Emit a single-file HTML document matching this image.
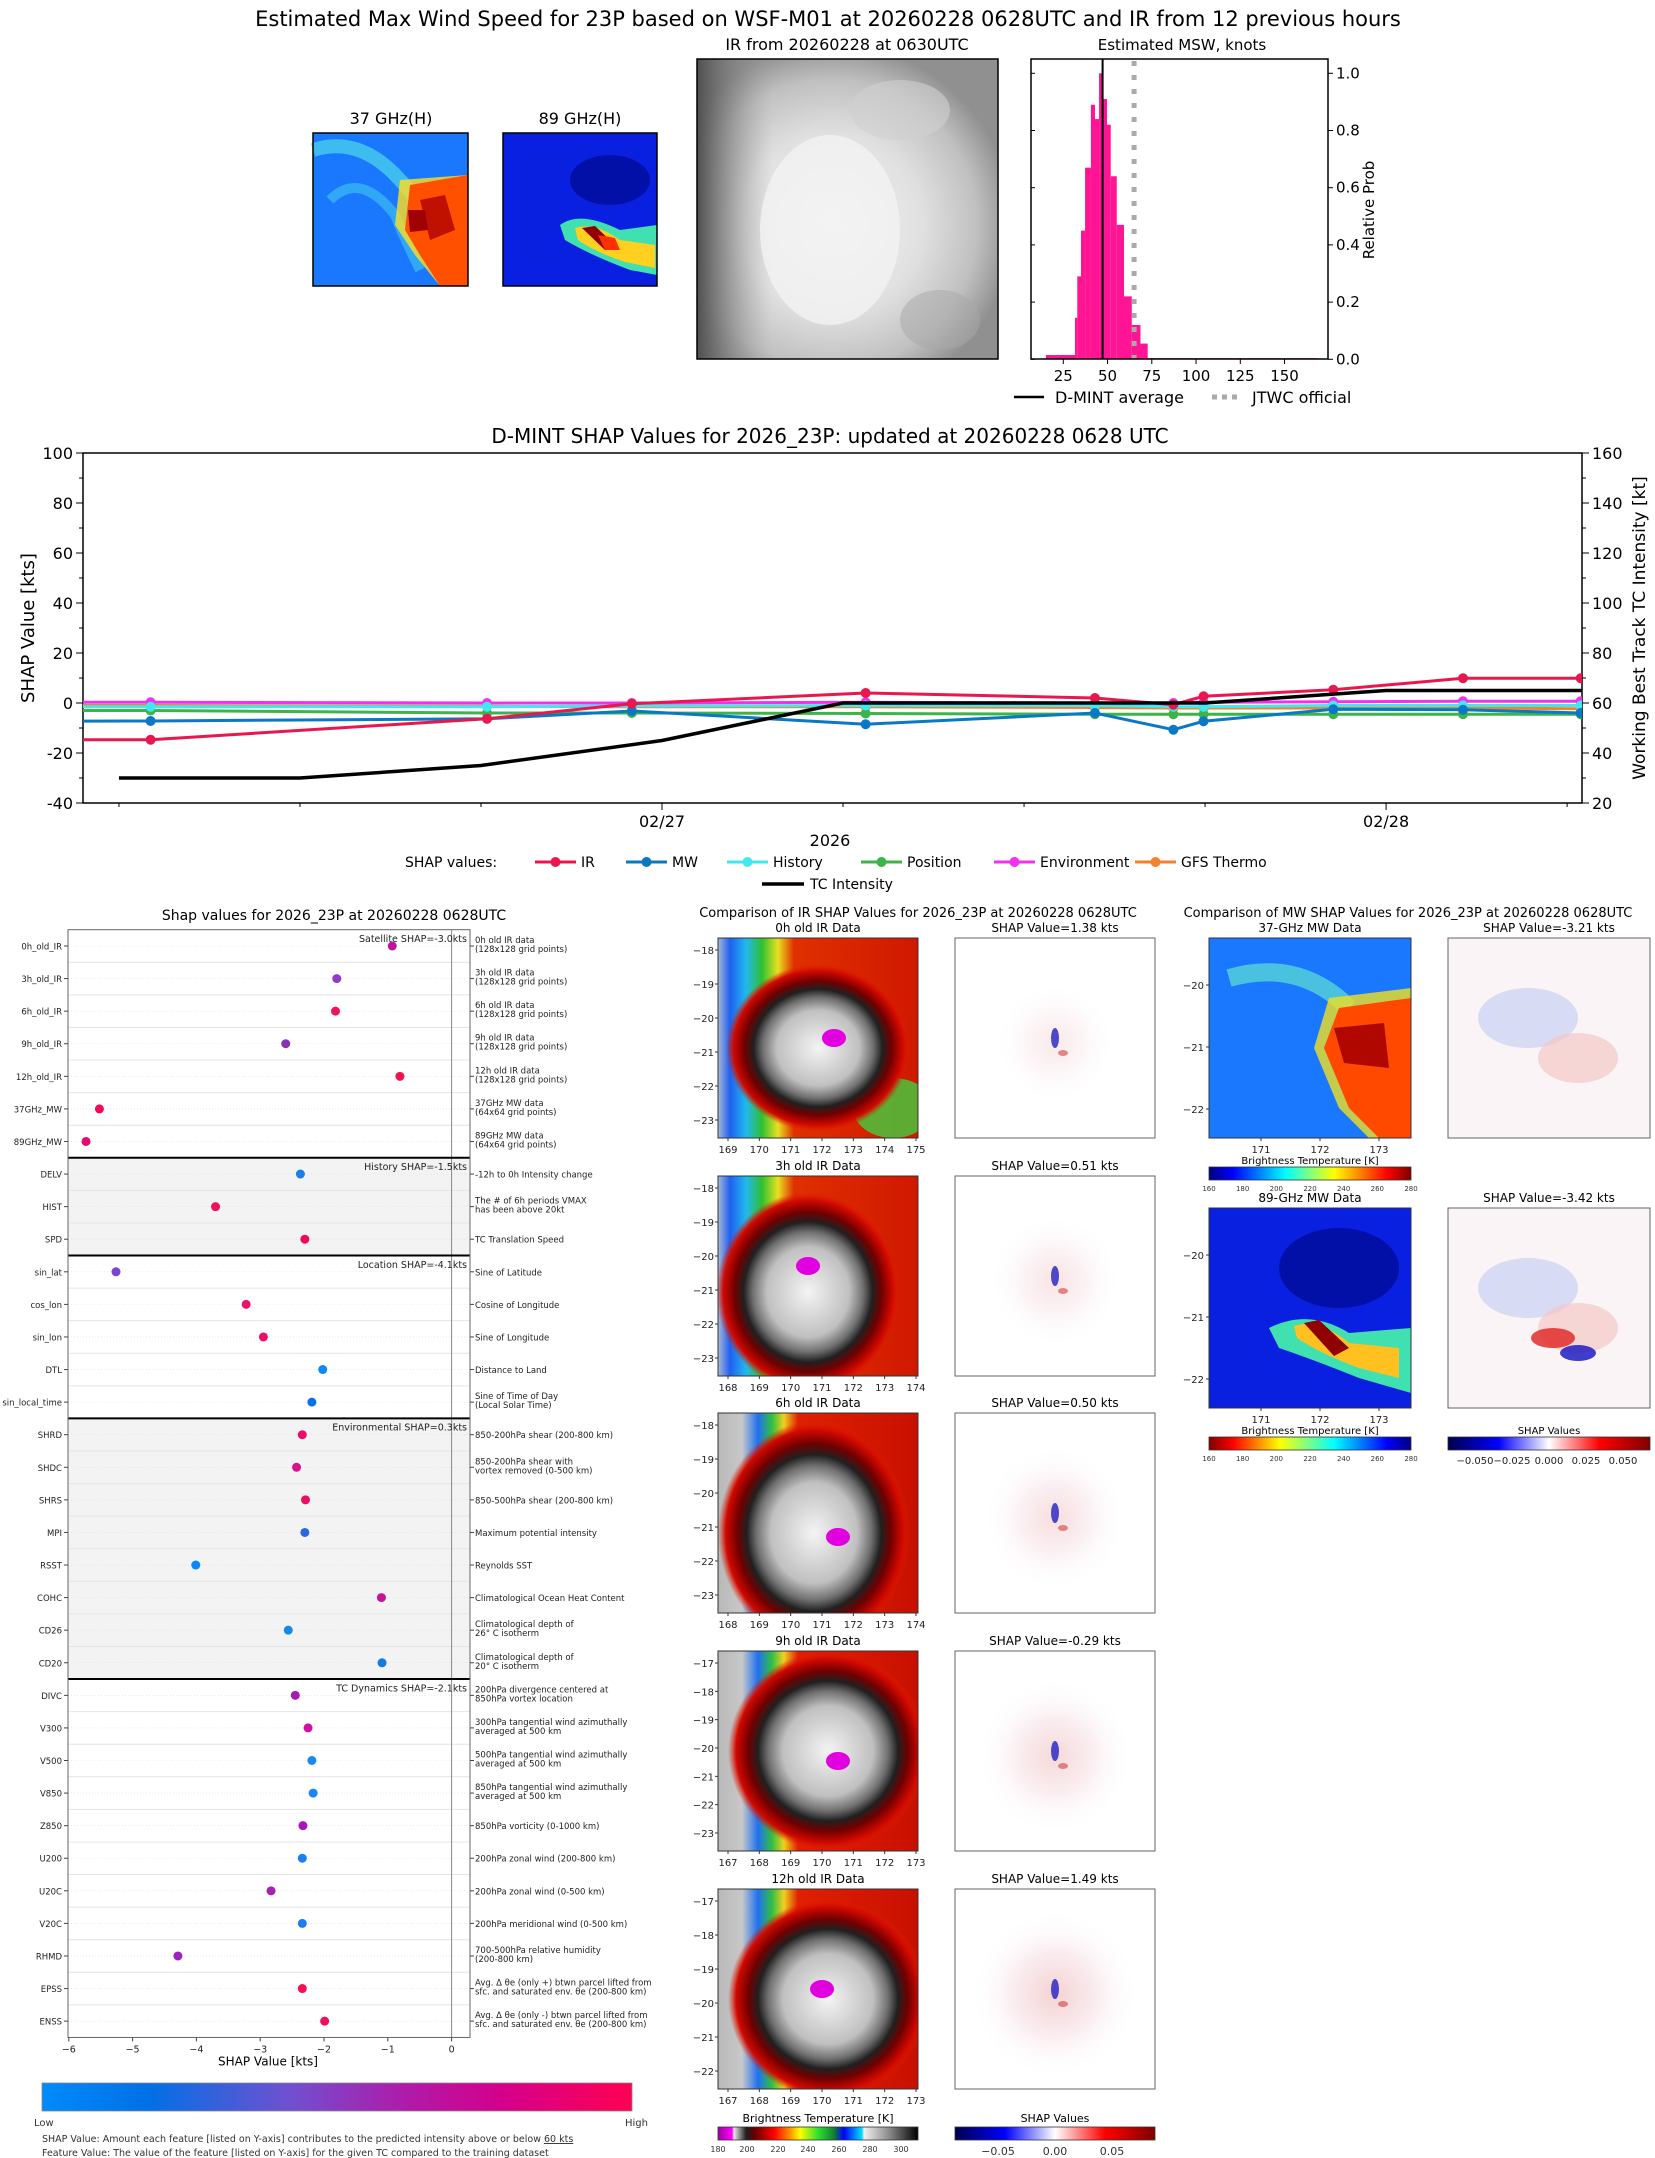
<!DOCTYPE html>
<html><head><meta charset="utf-8"><title>D-MINT 23P</title>
<style>
html,body{margin:0;padding:0;background:#fff;}
svg{display:block;font-family:"DejaVu Sans","Liberation Sans",sans-serif;}
</style></head>
<body>
<svg id="root" width="1655" height="2158" viewBox="0 0 1655 2158" xmlns="http://www.w3.org/2000/svg">
<defs>
 <linearGradient id="gIR1" x1="0" y1="0" x2="1" y2="0">
  <stop offset="0" stop-color="#a8b8d8"/><stop offset="0.06" stop-color="#2060f0"/><stop offset="0.14" stop-color="#20b8f0"/><stop offset="0.22" stop-color="#30c030"/><stop offset="0.3" stop-color="#e8e020"/><stop offset="0.38" stop-color="#e03000"/><stop offset="1" stop-color="#d01800"/>
 </linearGradient>
 <linearGradient id="gIR2" x1="0" y1="0" x2="1" y2="0">
  <stop offset="0" stop-color="#b8b8b8"/><stop offset="0.12" stop-color="#c8c8c8"/><stop offset="0.2" stop-color="#2070f0"/><stop offset="0.27" stop-color="#30c040"/><stop offset="0.33" stop-color="#f0d020"/><stop offset="0.4" stop-color="#e02000"/><stop offset="1" stop-color="#c81000"/>
 </linearGradient>
 <radialGradient id="gStorm" cx="0.5" cy="0.5" r="0.5">
  <stop offset="0" stop-color="#f4f4f4"/><stop offset="0.45" stop-color="#c0c0c0"/><stop offset="0.6" stop-color="#707070"/><stop offset="0.7" stop-color="#202020"/><stop offset="0.8" stop-color="#700000"/><stop offset="0.92" stop-color="#d00800"/><stop offset="1" stop-color="#e02000" stop-opacity="0"/>
 </radialGradient>
 <radialGradient id="gTopIR" cx="0.45" cy="0.55" r="0.6">
  <stop offset="0" stop-color="#f4f4f4"/><stop offset="0.5" stop-color="#e0e0e0"/><stop offset="0.8" stop-color="#c0c0c0"/><stop offset="1" stop-color="#909090"/>
 </radialGradient>
 <linearGradient id="gTopIRedge" x1="0" y1="0" x2="1" y2="0">
  <stop offset="0" stop-color="#505050"/><stop offset="0.25" stop-color="#a0a0a0" stop-opacity="0"/>
 </linearGradient>
 <radialGradient id="gShap" cx="0.5" cy="0.5" r="0.5">
  <stop offset="0" stop-color="#f2c8c8"/><stop offset="0.5" stop-color="#f8e8ec"/><stop offset="1" stop-color="#ffffff" stop-opacity="0"/>
 </radialGradient>
 <linearGradient id="gIRcb" x1="0" y1="0" x2="1" y2="0">
  <stop offset="0" stop-color="#a000a0"/><stop offset="0.07" stop-color="#ff00ff"/><stop offset="0.08" stop-color="#e8e8e8"/><stop offset="0.14" stop-color="#202020"/><stop offset="0.18" stop-color="#600000"/><stop offset="0.28" stop-color="#ff0000"/><stop offset="0.36" stop-color="#ff9000"/><stop offset="0.41" stop-color="#ffff00"/><stop offset="0.5" stop-color="#30e030"/><stop offset="0.58" stop-color="#108030"/><stop offset="0.63" stop-color="#0000ff"/><stop offset="0.72" stop-color="#00e0ff"/><stop offset="0.73" stop-color="#f0f0f0"/><stop offset="0.85" stop-color="#909090"/><stop offset="1" stop-color="#000000"/>
 </linearGradient>
 <linearGradient id="gJetR" x1="0" y1="0" x2="1" y2="0">
  <stop offset="0" stop-color="#800000"/><stop offset="0.12" stop-color="#ff0000"/><stop offset="0.35" stop-color="#ffff00"/><stop offset="0.62" stop-color="#00ffff"/><stop offset="0.88" stop-color="#0000ff"/><stop offset="1" stop-color="#000080"/>
 </linearGradient>
 <linearGradient id="gJet" x1="0" y1="0" x2="1" y2="0">
  <stop offset="0" stop-color="#000080"/><stop offset="0.12" stop-color="#0000ff"/><stop offset="0.38" stop-color="#00ffff"/><stop offset="0.62" stop-color="#ffff00"/><stop offset="0.88" stop-color="#ff0000"/><stop offset="1" stop-color="#800000"/>
 </linearGradient>
 <linearGradient id="gSeis" x1="0" y1="0" x2="1" y2="0">
  <stop offset="0" stop-color="#00004c"/><stop offset="0.25" stop-color="#0000ff"/><stop offset="0.5" stop-color="#ffffff"/><stop offset="0.75" stop-color="#ff0000"/><stop offset="1" stop-color="#800000"/>
 </linearGradient>
 <linearGradient id="gFeat" x1="0" y1="0" x2="1" y2="0">
  <stop offset="0" stop-color="#008bfb"/><stop offset="0.18" stop-color="#0070e6"/><stop offset="0.42" stop-color="#7050d0"/><stop offset="0.62" stop-color="#b01aa8"/><stop offset="0.78" stop-color="#d4008c"/><stop offset="1" stop-color="#ff0052"/>
 </linearGradient>
 <clipPath id="clipLine"><rect x="83" y="453" width="1499" height="350"/></clipPath>
</defs>

<text x="828" y="26" font-size="21" text-anchor="middle">Estimated Max Wind Speed for 23P based on WSF-M01 at 20260228 0628UTC and IR from 12 previous hours</text>

<text x="391" y="124" font-size="16" text-anchor="middle">37 GHz(H)</text>
<g>
 <rect x="313" y="133" width="155" height="153" fill="#1a78ff"/>
 <path d="M313,150 Q360,135 400,180 Q420,200 430,225" stroke="#50d8e8" stroke-width="14" fill="none" opacity="0.7"/>
 <path d="M330,200 Q360,170 395,215 Q405,240 420,270" stroke="#40c8f0" stroke-width="10" fill="none" opacity="0.6"/>
 <path d="M400,180 L468,175 L468,286 L440,286 L415,255 L395,225 Z" fill="#ffe020" opacity="0.8"/>
 <path d="M410,185 L468,175 L468,286 L440,286 L420,255 L405,230 Z" fill="#ff5000"/>
 <path d="M420,200 L445,195 L455,230 L430,240 Z" fill="#c01000"/>
 <path d="M408,210 L425,210 L428,230 L410,232 Z" fill="#a00000"/>
 <rect x="313" y="133" width="155" height="153" fill="none" stroke="#000" stroke-width="1.5"/>
</g>
<text x="580" y="124" font-size="16" text-anchor="middle">89 GHz(H)</text>
<g>
 <rect x="503" y="133" width="154" height="153" fill="#0a20e0"/>
 <ellipse cx="610" cy="180" rx="40" ry="25" fill="#000a90" opacity="0.7"/>
 <path d="M560,225 Q580,210 620,230 L657,225 L657,275 L630,270 Q590,255 565,240 Z" fill="#40e0b0"/>
 <path d="M575,228 Q595,222 620,240 L655,245 L655,268 L625,262 Q595,252 578,240 Z" fill="#ffd020"/>
 <path d="M582,228 L595,226 L615,245 L605,250 Z" fill="#900000"/>
 <path d="M598,235 L615,238 L620,250 L605,250 Z" fill="#ff3000"/>
 <rect x="503" y="133" width="154" height="153" fill="none" stroke="#000" stroke-width="1.5"/>
</g>

<text x="847" y="50" font-size="16" text-anchor="middle">IR from 20260228 at 0630UTC</text>
<g>
 <rect x="697" y="59" width="301" height="300" fill="url(#gTopIR)"/>
 <rect x="697" y="59" width="301" height="300" fill="url(#gTopIRedge)"/>
 <ellipse cx="830" cy="230" rx="70" ry="95" fill="#f2f2f2" opacity="0.8"/>
 <ellipse cx="900" cy="110" rx="50" ry="30" fill="#d0d0d0" opacity="0.6"/>
 <ellipse cx="940" cy="320" rx="40" ry="30" fill="#a8a8a8" opacity="0.5"/>
 <rect x="697" y="59" width="301" height="300" fill="none" stroke="#000" stroke-width="1.5"/>
</g>

<text x="1182" y="50" font-size="15" text-anchor="middle">Estimated MSW, knots</text>
<g id="hist"></g>
<text x="1374" y="210" font-size="15" text-anchor="middle" transform="rotate(-90 1374 210)">Relative Prob</text>
<g>
 <line x1="1014" y1="397" x2="1044" y2="397" stroke="#000" stroke-width="2.5"/>
 <text x="1055" y="403" font-size="16">D-MINT average</text>
 <line x1="1212" y1="397" x2="1242" y2="397" stroke="#aaa" stroke-width="5" stroke-dasharray="5 5"/>
 <text x="1252" y="403" font-size="16">JTWC official</text>
</g>

<text x="830" y="443" font-size="20" text-anchor="middle">D-MINT SHAP Values for 2026_23P: updated at 20260228 0628 UTC</text>
<g id="line"></g>
<text x="34" y="628" font-size="18" text-anchor="middle" transform="rotate(-90 34 628)">SHAP Value [kts]</text>
<text x="1645" y="628" font-size="17" text-anchor="middle" transform="rotate(-90 1645 628)">Working Best Track TC Intensity [kt]</text>
<text x="830" y="846" font-size="16" text-anchor="middle">2026</text>
<g id="lineLegend"></g>

<text x="334" y="920" font-size="14" text-anchor="middle">Shap values for 2026_23P at 20260228 0628UTC</text>
<g id="feat"></g>
<rect x="42" y="2083" width="590" height="28" fill="url(#gFeat)" stroke="#888" stroke-width="0.8"/>
<text x="34" y="2126" font-size="10" fill="#333">Low</text>
<text x="625" y="2126" font-size="10" fill="#333">High</text>
<text x="42" y="2142" font-size="9.5" fill="#333">SHAP Value: Amount each feature [listed on Y-axis] contributes to the predicted intensity above or below <tspan text-decoration="underline">60 kts</tspan></text>
<text x="42" y="2156" font-size="9.5" fill="#333">Feature Value: The value of the feature [listed on Y-axis] for the given TC compared to the training dataset</text>

<text x="918" y="917" font-size="13" text-anchor="middle">Comparison of IR SHAP Values for 2026_23P at 20260228 0628UTC</text>
<text x="1408" y="917" font-size="13" text-anchor="middle">Comparison of MW SHAP Values for 2026_23P at 20260228 0628UTC</text>
<g id="irpanels"></g>
<g id="mwpanels"></g>

<text x="818" y="2122" font-size="11" text-anchor="middle">Brightness Temperature [K]</text>
<rect x="718" y="2127" width="200" height="13" fill="url(#gIRcb)" stroke="#333" stroke-width="0.8"/>
<g font-size="8" text-anchor="middle" fill="#333">
 <text x="718" y="2152">180</text><text x="747" y="2152">200</text><text x="778" y="2152">220</text><text x="808" y="2152">240</text><text x="839" y="2152">260</text><text x="870" y="2152">280</text><text x="901" y="2152">300</text>
</g>
<text x="1055" y="2122" font-size="11" text-anchor="middle">SHAP Values</text>
<rect x="955" y="2127" width="200" height="13" fill="url(#gSeis)" stroke="#333" stroke-width="0.8"/>
<g font-size="11" text-anchor="middle" fill="#333">
 <text x="998" y="2155">−0.05</text><text x="1055" y="2155">0.00</text><text x="1112" y="2155">0.05</text>
</g>
</svg>

<script>
var SVGNS="http://www.w3.org/2000/svg";
function mk(tag,attrs,parent){var e=document.createElementNS(SVGNS,tag);for(var k in attrs){e.setAttribute(k,attrs[k]);}parent.appendChild(e);return e;}
function tx(str,attrs,parent){var e=mk('text',attrs,parent);e.textContent=str;return e;}

/* ---------- Histogram data ---------- */
var histEdges=[15.2,31.6,32.9,35.0,37.3,40.6,42.9,45.2,46.9,49.7,51.8,55.2,59.3,63.7,68.6,72.7,169];
var histProbs=[0.015,0.145,0.29,0.45,0.67,0.89,0.84,1.0,0.91,0.82,0.64,0.47,0.22,0.12,0.055,0.004];
var histXTicks=[25,50,75,100,125,150];
var histYTicks=[0,0.2,0.4,0.6,0.8,1.0];
var dmintMean=47.2;
var jtwcOfficial=65;
(function(){
 var g=document.getElementById('hist');
 function hx(v){return 1063.3+(v-25)*1.77;}
 function hy(p){return 359.3-p*286;}
 for(var i=0;i<histProbs.length;i++){
  var r=mk('rect',{x:hx(histEdges[i]),y:hy(histProbs[i]),width:hx(histEdges[i+1])-hx(histEdges[i]),height:hy(0)-hy(histProbs[i]),fill:'#ff1493'},g);
  
  
 }
 var m=mk('line',{x1:hx(dmintMean),x2:hx(dmintMean),y1:59,y2:359,stroke:'#000','stroke-width':2},g);
 
 
 var j=mk('line',{x1:hx(jtwcOfficial),x2:hx(jtwcOfficial),y1:61,y2:359,stroke:'#aaa','stroke-width':5,'stroke-dasharray':'5 9'},g);
 
 
 var b=mk('rect',{x:1031,y:59,width:297,height:300,fill:'none',stroke:'#000','stroke-width':1.5},g);
 
 
 histXTicks.forEach(function(v){
  mk('line',{x1:hx(v),x2:hx(v),y1:359,y2:364,stroke:'#000'},g);
  var t=tx(String(v),{x:hx(v),y:381,'font-size':15,'text-anchor':'middle'},g);
  
  
 });
 histYTicks.forEach(function(p){
  mk('line',{x1:1328,x2:1333,y1:hy(p),y2:hy(p),stroke:'#000'},g);
  mk('line',{x1:1031,x2:1035,y1:hy(p),y2:hy(p),stroke:'#000'},g);
  var t=tx(p.toFixed(1),{x:1336,y:hy(p)+5,'font-size':15},g);
  
  
 });
})();

/* ---------- Time series data (hours since 02/26 00Z) ---------- */
var shapTimes=[3.0,7.05,18.2,23.0,30.75,38.35,40.95,41.95,46.25,50.55,54.45];
var irVals=[-14.7,-14.7,-6.3,-0.3,4.0,2.0,-0.7,2.7,5.3,9.9,9.9];
var mwVals=[-7.3,-7.2,-6.3,-3.2,-8.5,-4.0,-10.7,-7.3,-2.5,-2.7,-4.0];
var historyVals=[-1.5,-1.5,-1.5,-1.2,-1.0,-1.0,-1.5,-1.5,-1.0,-1.0,-1.0];
var positionVals=[-3.0,-3.0,-4.0,-4.0,-4.2,-4.5,-4.5,-4.5,-4.5,-4.5,-4.5];
var envVals=[0.3,0.3,0.0,0.0,0.3,0.0,0.0,0.3,0.5,0.7,0.7];
var gfsVals=[-1.0,-1.0,-1.3,-1.5,-1.5,-1.8,-2.0,-2.0,-2.0,-2.0,-2.3];
var tcTimes=[6,12,18,24,30,36,42,48,54.5];
var tcVals=[30,30,35,45,60,60,60,65,65];
var leftTicks=[-40,-20,0,20,40,60,80,100];
var rightTicks=[20,40,60,80,100,120,140,160];
var dateTicks=[24,48];
var dateLabels=['02/27','02/28'];
var minorTimeTicks=[6,12,18,30,36,42,54];
(function(){
 var g=document.getElementById('line');
 function X(t){return 662+(t-24)*30.17;}
 function Y(v){return 803-(v+40)*2.5;}
 function YR(k){return 803-(k-20)*2.5;}
 var fr=mk('rect',{x:83,y:453,width:1499,height:350,fill:'none',stroke:'#000','stroke-width':1.5},g);
 
 
 leftTicks.forEach(function(v){
  mk('line',{x1:76,x2:83,y1:Y(v),y2:Y(v),stroke:'#000'},g);
  var t=tx(String(v),{x:73,y:Y(v)+6,'font-size':16,'text-anchor':'end'},g);
  
  
  if(v<100){mk('line',{x1:79,x2:83,y1:Y(v+10),y2:Y(v+10),stroke:'#000'},g);}
 });
 rightTicks.forEach(function(k){
  mk('line',{x1:1582,x2:1589,y1:YR(k),y2:YR(k),stroke:'#000'},g);
  var t=tx(String(k),{x:1592,y:YR(k)+6,'font-size':16},g);
  
  
  if(k<160){mk('line',{x1:1582,x2:1586,y1:YR(k+10),y2:YR(k+10),stroke:'#000'},g);}
 });
 minorTimeTicks.forEach(function(t){mk('line',{x1:X(t),x2:X(t),y1:803,y2:807,stroke:'#000'},g);});
 dateTicks.forEach(function(t,i){
  mk('line',{x1:X(t),x2:X(t),y1:803,y2:810,stroke:'#000'},g);
  var l=tx(dateLabels[i],{x:X(t),y:827,'font-size':16,'text-anchor':'middle'},g);
  
  
 });
 var cg=mk('g',{'clip-path':'url(#clipLine)'},g);
 var series=[['gfs-thermo-series',gfsVals,'#f5822a'],['environment-series',envVals,'#f032ef'],['position-series',positionVals,'#3db44b'],['history-series',historyVals,'#42e8f0'],['mw-series',mwVals,'#0b78c6'],['ir-series',irVals,'#e8184e']];
 series.forEach(function(s){
  var sg=mk('g',{},cg);
  
  
  var pts=shapTimes.map(function(t,i){return X(t)+','+Y(s[1][i]);}).join(' ');
  mk('polyline',{points:pts,fill:'none',stroke:s[2],'stroke-width':3},sg);
  shapTimes.forEach(function(t,i){
   var c=mk('circle',{cx:X(t),cy:Y(s[1][i]),r:5,fill:s[2]},sg);
   
   
  });
 });
 var tpts=tcTimes.map(function(t,i){return X(t)+','+YR(tcVals[i]);}).join(' ');
 var tl=mk('polyline',{points:tpts,fill:'none',stroke:'#000','stroke-width':3.5},cg);
 
 
})();
(function(){
 var g=document.getElementById('lineLegend');
 var t=tx('SHAP values:',{x:405,y:867,'font-size':14},g);
 
 
 var items=[['IR','#e8184e',535],['MW','#0b78c6',626],['History','#42e8f0',727],['Position','#3db44b',861],['Environment','#f032ef',994],['GFS Thermo','#f5822a',1135]];
 items.forEach(function(it){
  var eg=mk('g',{},g);
  
  
  mk('line',{x1:it[2],x2:it[2]+41,y1:862,y2:862,stroke:it[1],'stroke-width':3},eg);
  mk('circle',{cx:it[2]+20.5,cy:862,r:5,fill:it[1]},eg);
  tx(it[0],{x:it[2]+46,y:867,'font-size':14},eg);
 });
 var eg=mk('g',{},g);
 
 
 mk('line',{x1:762,x2:804,y1:884,y2:884,stroke:'#000','stroke-width':3.5},eg);
 tx('TC Intensity',{x:810,y:889,'font-size':14},eg);
})();

/* ---------- Feature SHAP data ---------- */
var featNames=['0h_old_IR','3h_old_IR','6h_old_IR','9h_old_IR','12h_old_IR','37GHz_MW','89GHz_MW','DELV','HIST','SPD','sin_lat','cos_lon','sin_lon','DTL','sin_local_time','SHRD','SHDC','SHRS','MPI','RSST','COHC','CD26','CD20','DIVC','V300','V500','V850','Z850','U200','U20C','V20C','RHMD','EPSS','ENSS'];
var featShap=[-0.93,-1.80,-1.82,-2.60,-0.81,-5.52,-5.73,-2.37,-3.70,-2.30,-5.26,-3.22,-2.95,-2.02,-2.19,-2.34,-2.43,-2.29,-2.30,-4.01,-1.10,-2.56,-1.09,-2.45,-2.25,-2.19,-2.17,-2.33,-2.34,-2.83,-2.34,-4.29,-2.34,-1.99];
var featColors=['#c0139d','#8e3dc8','#f0145a','#8a2fb8','#f5104f','#f20a56','#e60a70','#1a7fe8','#f0105e','#f00a56','#7a45d0','#ec106a','#ea0d6a','#1187f5','#0a70ea','#ea0e6a','#d8128a','#ee0c60','#2b66e0','#0a88f5','#c8129a','#168ae9','#0f7ae8','#a61ab6','#d410a0','#1a88f0','#1a88f0','#a815b8','#1a80f0','#a622b0','#1a80f0','#9b22bc','#f5104f','#f0105a'];
var featDesc=[['0h old IR data','(128x128 grid points)'],['3h old IR data','(128x128 grid points)'],['6h old IR data','(128x128 grid points)'],['9h old IR data','(128x128 grid points)'],['12h old IR data','(128x128 grid points)'],['37GHz MW data','(64x64 grid points)'],['89GHz MW data','(64x64 grid points)'],['-12h to 0h Intensity change'],['The # of 6h periods VMAX','has been above 20kt'],['TC Translation Speed'],['Sine of Latitude'],['Cosine of Longitude'],['Sine of Longitude'],['Distance to Land'],['Sine of Time of Day','(Local Solar Time)'],['850-200hPa shear (200-800 km)'],['850-200hPa shear with','vortex removed (0-500 km)'],['850-500hPa shear (200-800 km)'],['Maximum potential intensity'],['Reynolds SST'],['Climatological Ocean Heat Content'],['Climatological depth of','26° C isotherm'],['Climatological depth of','20° C isotherm'],['200hPa divergence centered at','850hPa vortex location'],['300hPa tangential wind azimuthally','averaged at 500 km'],['500hPa tangential wind azimuthally','averaged at 500 km'],['850hPa tangential wind azimuthally','averaged at 500 km'],['850hPa vorticity (0-1000 km)'],['200hPa zonal wind (200-800 km)'],['200hPa zonal wind (0-500 km)'],['200hPa meridional wind (0-500 km)'],['700-500hPa relative humidity','(200-800 km)'],['Avg. Δ θe (only +) btwn parcel lifted from','sfc. and saturated env. θe (200-800 km)'],['Avg. Δ θe (only -) btwn parcel lifted from','sfc. and saturated env. θe (200-800 km)']];
var groupStarts=[0,7,10,15,23];
var groupEnds=[6,9,14,22,33];
var groupTitles=['Satellite SHAP=-3.0kts','History SHAP=-1.5kts','Location SHAP=-4.1kts','Environmental SHAP=0.3kts','TC Dynamics SHAP=-2.1kts'];
var groupShaded=[false,true,false,true,false];
var featXTicks=[-6,-5,-4,-3,-2,-1,0];
(function(){
 var g=document.getElementById('feat');
 function FX(v){return 451.6+v*63.8;}
 function FY(i){return 946+i*32.58;}
 var L=68,R=470,T=FY(0)-16.3,B=FY(33)+16.3;
 groupStarts.forEach(function(s,k){
  if(groupShaded[k]){
   var r=mk('rect',{x:L,y:FY(s)-16.3,width:R-L,height:FY(groupEnds[k])-FY(s)+32.6,fill:'#f3f3f3'},g);
   
   
  }
 });
 for(var i=0;i<featNames.length;i++){
  mk('line',{x1:L,x2:R,y1:FY(i)+16.3,y2:FY(i)+16.3,stroke:'#e4e4e4','stroke-width':1},g);
  mk('line',{x1:L,x2:R,y1:FY(i),y2:FY(i),stroke:'#ddd','stroke-width':0.6,'stroke-dasharray':'1 2'},g);
 }
 mk('line',{x1:FX(0),x2:FX(0),y1:T,y2:B,stroke:'#888','stroke-width':1},g);
 groupStarts.forEach(function(s,k){
  if(s>0){
   var l=mk('line',{x1:L,x2:R,y1:FY(s)-16.3,y2:FY(s)-16.3,stroke:'#000','stroke-width':2},g);
   
   
  }
  var t=tx(groupTitles[k],{x:467,y:FY(s)-4,'font-size':9.5,'text-anchor':'end',fill:'#222'},g);
  
  
 });
 var fr=mk('rect',{x:L,y:T,width:R-L,height:B-T,fill:'none',stroke:'#666','stroke-width':1},g);
 
 
 for(var i=0;i<featNames.length;i++){
  var lb=tx(featNames[i],{x:62,y:FY(i)+3.5,'font-size':8.5,'text-anchor':'end',fill:'#222'},g);
  
  
  mk('line',{x1:64,x2:68,y1:FY(i),y2:FY(i),stroke:'#444'},g);
  mk('line',{x1:470,x2:474,y1:FY(i),y2:FY(i),stroke:'#444'},g);
  var d=featDesc[i];
  var dy=d.length>1?FY(i)-3:FY(i)+3.5;
  for(var j=0;j<d.length;j++){
   var dt=tx(d[j],{x:475,y:dy+j*9,'font-size':8.5,fill:'#222'},g);
   
   
  }
  var c=mk('circle',{cx:FX(featShap[i]),cy:FY(i),r:4.5,fill:featColors[i]},g);
  
  
 }
 featXTicks.forEach(function(v){
  mk('line',{x1:FX(v),x2:FX(v),y1:B,y2:B+4,stroke:'#444'},g);
  var t=tx(String(v).replace('-','−'),{x:FX(v),y:B+15,'font-size':9.5,'text-anchor':'middle',fill:'#222'},g);
  
  
 });
 var xt=tx('SHAP Value [kts]',{x:268,y:B+28,'font-size':12,'text-anchor':'middle'},g);
 
 
})();

/* ---------- IR panels ---------- */
var irTitles=['0h old IR Data','3h old IR Data','6h old IR Data','9h old IR Data','12h old IR Data'];
var shapTitles=['SHAP Value=1.38 kts','SHAP Value=0.51 kts','SHAP Value=0.50 kts','SHAP Value=-0.29 kts','SHAP Value=1.49 kts'];
var latLabels=[['-18','-19','-20','-21','-22','-23'],['-18','-19','-20','-21','-22','-23'],['-18','-19','-20','-21','-22','-23'],['-17','-18','-19','-20','-21','-22','-23'],['-17','-18','-19','-20','-21','-22']];
var lonLabels=[['169','170','171','172','173','174','175'],['168','169','170','171','172','173','174'],['168','169','170','171','172','173','174'],['167','168','169','170','171','172','173'],['167','168','169','170','171','172','173']];
(function(){
 var g=document.getElementById('irpanels');
 var tops=[938,1176,1413,1651,1889];
 var styles=[{bg:'gIR1',cx:0.5,cy:0.55,rx:0.46,ry:0.42,mx:0.58,my:0.5},{bg:'gIR1',cx:0.45,cy:0.58,rx:0.46,ry:0.5,mx:0.45,my:0.45},{bg:'gIR2',cx:0.48,cy:0.6,rx:0.48,ry:0.56,mx:0.6,my:0.62},{bg:'gIR2',cx:0.55,cy:0.5,rx:0.5,ry:0.5,mx:0.6,my:0.55},{bg:'gIR2',cx:0.55,cy:0.55,rx:0.5,ry:0.5,mx:0.52,my:0.5}];
 tops.forEach(function(top,k){
  var x=718,w=200,h=200,s=styles[k];
  var pg=mk('g',{},g);
  
  
  tx(irTitles[k],{x:x+w/2,y:top-6,'font-size':12,'text-anchor':'middle'},pg);
  var im=mk('svg',{x:x,y:top,width:w,height:h,viewBox:'0 0 200 200',overflow:'hidden'},pg);
  
  
  mk('rect',{x:0,y:0,width:w,height:h,fill:'url(#'+s.bg+')'},im);
  if(k===0){mk('ellipse',{cx:175,cy:170,rx:40,ry:30,fill:'#40d040',opacity:0.8},im);}
  mk('ellipse',{cx:s.cx*w,cy:s.cy*h,rx:s.rx*w,ry:s.ry*h,fill:'url(#gStorm)'},im);
  mk('ellipse',{cx:s.mx*w,cy:s.my*h,rx:12,ry:9,fill:'#e000e0'},im);
  mk('rect',{x:x,y:top,width:w,height:h,fill:'none',stroke:'#333','stroke-width':1},pg);
  var la=latLabels[k];
  la.forEach(function(v,i){
   var yy=top+12+i*(h-30)/(la.length-1);
   mk('line',{x1:x-3,x2:x,y1:yy,y2:yy,stroke:'#333'},pg);
   tx(v.replace('-','−'),{x:x-4,y:yy+4,'font-size':10,'text-anchor':'end',fill:'#222'},pg);
  });
  var lo=lonLabels[k];
  lo.forEach(function(v,i){
   var xx=x+10+i*(w-12)/(lo.length-1);
   mk('line',{x1:xx,x2:xx,y1:top+h,y2:top+h+3,stroke:'#333'},pg);
   tx(v,{x:xx,y:top+h+15,'font-size':10,'text-anchor':'middle',fill:'#222'},pg);
  });
  var sx=955;
  var sg=mk('g',{},g);
  
  
  tx(shapTitles[k],{x:sx+w/2,y:top-6,'font-size':12,'text-anchor':'middle'},sg);
  mk('rect',{x:sx,y:top,width:w,height:h,fill:'#fff'},sg);
  mk('ellipse',{cx:sx+100,cy:top+105,rx:60+k*6,ry:60+k*6,fill:'url(#gShap)',opacity:0.4+k*0.1},sg);
  mk('ellipse',{cx:sx+100,cy:top+100,rx:4,ry:10,fill:'#2020c0',opacity:0.8},sg);
  mk('ellipse',{cx:sx+108,cy:top+115,rx:5,ry:3,fill:'#d04040',opacity:0.6},sg);
  mk('rect',{x:sx,y:top,width:w,height:h,fill:'none',stroke:'#666','stroke-width':1},sg);
 });
})();

/* ---------- MW panels ---------- */
var mwTitles=['37-GHz MW Data','89-GHz MW Data'];
var mwShapTitles=['SHAP Value=-3.21 kts','SHAP Value=-3.42 kts'];
var mwLat=['-20','-21','-22'];
var mwLon=['171','172','173'];
var mwCbTicks=['160','180','200','220','240','260','280'];
var mwShapTicks=['−0.050','−0.025','0.000','0.025','0.050'];
(function(){
 var g=document.getElementById('mwpanels');
 var tops=[938,1208];
 var cbY=[1167,1437];
 tops.forEach(function(top,k){
  var x=1209,w=202,h=200;
  var pg=mk('g',{},g);
  
  
  tx(mwTitles[k],{x:x+w/2,y:top-6,'font-size':12,'text-anchor':'middle'},pg);
  if(k===0){
   mk('rect',{x:x,y:top,width:w,height:h,fill:'#1a78ff'},pg);
   mk('path',{d:'M'+(x+20)+','+(top+40)+' Q'+(x+90)+','+(top+20)+' '+(x+140)+','+(top+70),stroke:'#60e0d0','stroke-width':18,fill:'none',opacity:0.7},pg);
   mk('path',{d:'M'+(x+120)+','+(top+60)+' L'+(x+w)+','+(top+50)+' L'+(x+w)+','+(top+h)+' L'+(x+160)+','+(top+h)+' L'+(x+130)+','+(top+170)+' L'+(x+105)+','+(top+110)+' Z',fill:'#f0e020',opacity:0.8},pg);
   mk('path',{d:'M'+(x+130)+','+(top+70)+' L'+(x+w)+','+(top+60)+' L'+(x+w)+','+(top+h)+' L'+(x+170)+','+(top+h)+' L'+(x+140)+','+(top+170)+' L'+(x+115)+','+(top+110)+' Z',fill:'#ff4800'},pg);
   mk('path',{d:'M'+(x+125)+','+(top+90)+' L'+(x+175)+','+(top+85)+' L'+(x+180)+','+(top+130)+' L'+(x+135)+','+(top+125)+' Z',fill:'#b00800'},pg);
  } else {
   mk('rect',{x:x,y:top,width:w,height:h,fill:'#0a20e0'},pg);
   mk('ellipse',{cx:x+130,cy:top+60,rx:60,ry:40,fill:'#000a90',opacity:0.7},pg);
   mk('path',{d:'M'+(x+60)+','+(top+120)+' Q'+(x+100)+','+(top+100)+' '+(x+140)+','+(top+125)+' L'+(x+w)+','+(top+120)+' L'+(x+w)+','+(top+185)+' L'+(x+150)+','+(top+170)+' Q'+(x+100)+','+(top+150)+' '+(x+70)+','+(top+140)+' Z',fill:'#40e0b0'},pg);
   mk('path',{d:'M'+(x+85)+','+(top+118)+' Q'+(x+110)+','+(top+110)+' '+(x+140)+','+(top+135)+' L'+(x+190)+','+(top+140)+' L'+(x+190)+','+(top+170)+' L'+(x+150)+','+(top+160)+' Q'+(x+110)+','+(top+145)+' '+(x+88)+','+(top+130)+' Z',fill:'#ffc020'},pg);
   mk('path',{d:'M'+(x+95)+','+(top+115)+' L'+(x+110)+','+(top+112)+' L'+(x+140)+','+(top+140)+' L'+(x+125)+','+(top+148)+' Z',fill:'#900000'},pg);
  }
  mk('rect',{x:x,y:top,width:w,height:h,fill:'none',stroke:'#333','stroke-width':1},pg);
  mwLat.forEach(function(v,i){
   var yy=top+47+i*62;
   mk('line',{x1:x-3,x2:x,y1:yy,y2:yy,stroke:'#333'},pg);
   tx(v.replace('-','−'),{x:x-5,y:yy+4,'font-size':10,'text-anchor':'end',fill:'#222'},pg);
  });
  mwLon.forEach(function(v,i){
   var xx=x+52+i*59;
   mk('line',{x1:xx,x2:xx,y1:top+h,y2:top+h+3,stroke:'#333'},pg);
   tx(v,{x:xx,y:top+h+15,'font-size':10,'text-anchor':'middle',fill:'#222'},pg);
  });
  var cb=mk('g',{},g);
  
  
  tx('Brightness Temperature [K]',{x:x+w/2,y:cbY[k]-3,'font-size':10,'text-anchor':'middle'},cb);
  mk('rect',{x:x,y:cbY[k],width:w,height:13,fill:k===0?'url(#gJet)':'url(#gJetR)',stroke:'#333','stroke-width':0.8},cb);
  mwCbTicks.forEach(function(v,i){tx(v,{x:x+i*w/6,y:cbY[k]+24,'font-size':7,'text-anchor':'middle',fill:'#333'},cb);});
  var sx=1448;
  var sg=mk('g',{},g);
  
  
  tx(mwShapTitles[k],{x:sx+w/2,y:top-6,'font-size':12,'text-anchor':'middle'},sg);
  mk('rect',{x:sx,y:top,width:w,height:h,fill:'#fbf4f6'},sg);
  mk('ellipse',{cx:sx+80,cy:top+80,rx:50,ry:30,fill:'#c8d0f4',opacity:0.7},sg);
  mk('ellipse',{cx:sx+130,cy:top+120,rx:40,ry:25,fill:'#f4c8c8',opacity:0.7},sg);
  if(k===1){
   mk('ellipse',{cx:sx+105,cy:top+130,rx:22,ry:10,fill:'#e02020',opacity:0.8},sg);
   mk('ellipse',{cx:sx+130,cy:top+145,rx:18,ry:8,fill:'#1010c0',opacity:0.8},sg);
  }
  mk('rect',{x:sx,y:top,width:w,height:h,fill:'none',stroke:'#666','stroke-width':1},sg);
 });
 var sb=mk('g',{},g);
 
 
 tx('SHAP Values',{x:1549,y:1434,'font-size':10,'text-anchor':'middle'},sb);
 mk('rect',{x:1448,y:1437,width:202,height:13,fill:'url(#gSeis)',stroke:'#333','stroke-width':0.8},sb);
 mwShapTicks.forEach(function(v,i){tx(v,{x:1475+i*37,y:1464,'font-size':10,'text-anchor':'middle',fill:'#222'},sb);});
})();
</script>
</body></html>
